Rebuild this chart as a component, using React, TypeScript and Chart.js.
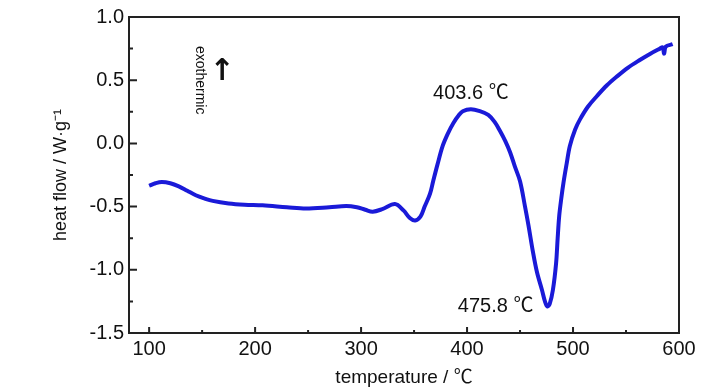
import React, { useEffect, useRef } from "react";
import { Chart, registerables } from "chart.js";

Chart.register(...registerables);

// ---- data ----
const temperature = [
  100, 106, 112, 120, 128, 136, 144, 152, 160, 175, 190, 207, 230, 248, 270, 286, 296, 304, 311, 320,
  332, 340, 346, 351, 356, 360, 365, 368, 372, 377, 382, 387, 392, 396, 403.6, 412, 420, 426, 431, 436,
  440.6, 445, 450, 454.7, 458, 462, 466, 470.7, 473.5, 475.8, 478, 481, 484, 485.5, 487, 489, 491, 494,
  497, 502, 506.6, 514, 522.6, 532, 541.5, 552, 563, 573, 582, 584.5, 586, 587.5, 594,
];
const heatFlow = [
  -0.335, -0.315, -0.305, -0.315, -0.34, -0.375, -0.41, -0.435, -0.455, -0.475, -0.485, -0.49, -0.505,
  -0.515, -0.505, -0.495, -0.505, -0.525, -0.54, -0.52, -0.48, -0.53, -0.59, -0.61, -0.58, -0.5, -0.4,
  -0.3, -0.17, -0.02, 0.08, 0.16, 0.22, 0.255, 0.27, 0.255, 0.225, 0.17, 0.1, 0.02, -0.07, -0.18, -0.3,
  -0.5, -0.65, -0.85, -1.02, -1.16, -1.25, -1.29, -1.27, -1.16, -0.95, -0.75, -0.57, -0.43, -0.31,
  -0.16, -0.02, 0.11, 0.19, 0.29, 0.375, 0.46, 0.53, 0.6, 0.66, 0.71, 0.75, 0.76, 0.71, 0.765, 0.785,
];
const xTickValues = [100, 200, 300, 400, 500, 600];
const xMinorValues = [150, 250, 350, 450, 550];
const yTickValues = [-1.5, -1.0, -0.5, 0.0, 0.5, 1.0];
const yMinorValues = [-1.25, -0.75, -0.25, 0.25, 0.75];

const peakTemp = 403.6;
const peakValue = 0.27;
const peakLabel = "403.6 ℃";
const troughTemp = 475.8;
const troughValue = -1.29;
const troughLabel = "475.8 ℃";
const exoTemp = 150;
const exoValue = 0.5;
const exoLabel = "exothermic";
const arrowLabel = "↑";

const xTitle = "temperature / ℃";
const yTitle = "heat flow / W·g⁻¹";

const FONT = '"Liberation Sans", Arial, "Noto Sans CJK SC", sans-serif';

const framePlugin = {
  id: "frameAndNotes",
  afterDraw(chart: any) {
    const { ctx, chartArea, scales } = chart;
    const { left, right, top, bottom } = chartArea;
    const x = scales.x;
    const y = scales.y;
    ctx.save();
    ctx.strokeStyle = "#222";
    ctx.lineWidth = 2;
    ctx.strokeRect(left, top, right - left, bottom - top);
    ctx.beginPath();
    yTickValues.forEach((v) => {
      const py = y.getPixelForValue(v);
      ctx.moveTo(left, py);
      ctx.lineTo(left + 8, py);
    });
    yMinorValues.forEach((v) => {
      const py = y.getPixelForValue(v);
      ctx.moveTo(left, py);
      ctx.lineTo(left + 4, py);
    });
    xTickValues.forEach((v) => {
      const px = x.getPixelForValue(v);
      ctx.moveTo(px, bottom);
      ctx.lineTo(px, bottom - 6);
    });
    xMinorValues.forEach((v) => {
      const px = x.getPixelForValue(v);
      ctx.moveTo(px, bottom);
      ctx.lineTo(px, bottom - 3);
    });
    ctx.stroke();

    ctx.fillStyle = "#111";
    ctx.font = `20px ${FONT}`;
    ctx.textBaseline = "middle";
    ctx.textAlign = "center";
    ctx.fillText(peakLabel, x.getPixelForValue(peakTemp), y.getPixelForValue(peakValue) - 16);
    ctx.textAlign = "right";
    ctx.fillText(troughLabel, x.getPixelForValue(troughTemp) - 14, y.getPixelForValue(troughValue));

    // exothermic note (rotated clockwise)
    const ex = x.getPixelForValue(exoTemp);
    const ey = y.getPixelForValue(exoValue);
    ctx.save();
    ctx.translate(ex - 2, ey);
    ctx.rotate(Math.PI / 2);
    ctx.font = `14px ${FONT}`;
    ctx.textAlign = "center";
    ctx.textBaseline = "middle";
    ctx.fillText(exoLabel, 0, 0);
    ctx.restore();
    ctx.font = `bold 30px "DejaVu Sans", ${FONT}`;
    ctx.textAlign = "center";
    ctx.textBaseline = "middle";
    ctx.fillText(arrowLabel, ex + 20, ey - 8);
    ctx.restore();
  },
};

export default function App() {
  const ref = useRef<HTMLCanvasElement | null>(null);
  useEffect(() => {
    if (!ref.current) return;
    const points = temperature.map((t, i) => ({ x: t, y: heatFlow[i] }));
    const chart = new Chart(ref.current, {
      type: "line",
      data: {
        datasets: [
          {
            data: points,
            borderColor: "#1a1ad8",
            borderWidth: 4,
            pointRadius: 0,
            tension: 0.35,
            fill: false,
          },
        ],
      },
      options: {
        animation: false,
        responsive: true,
        maintainAspectRatio: false,
        layout: { padding: { left: 0, top: 13, right: 49, bottom: 0 } },
        plugins: { legend: { display: false }, tooltip: { enabled: false } },
        scales: {
          x: {
            type: "linear",
            min: 81,
            max: 600,
            afterBuildTicks: (s: any) => {
              s.ticks = xTickValues.map((v) => ({ value: v }));
            },
            afterFit: (s: any) => {
              s.height = 57;
            },
            grid: { display: false, drawTicks: false },
            border: { display: false },
            ticks: {
              padding: 4,
              color: "#111",
              font: { family: FONT, size: 20 },
              callback: (v: any) => String(v),
            },
            title: {
              display: true,
              text: xTitle,
              color: "#111",
              font: { family: FONT, size: 19 },
              padding: { top: 0, bottom: 1 },
            },
          },
          y: {
            type: "linear",
            min: -1.5,
            max: 1.0,
            afterBuildTicks: (s: any) => {
              s.ticks = yTickValues.map((v) => ({ value: v }));
            },
            afterFit: (s: any) => {
              s.width = 129;
            },
            grid: { display: false, drawTicks: false },
            border: { display: false },
            ticks: {
              padding: 5,
              color: "#111",
              font: { family: FONT, size: 20 },
              callback: (v: any) => Number(v).toFixed(1),
            },
            title: {
              display: true,
              text: yTitle,
              color: "#111",
              font: { family: FONT, size: 18 },
              padding: { top: 50, bottom: 0 },
            },
          },
        },
      },
      plugins: [framePlugin],
    });
    return () => chart.destroy();
  }, []);
  return (
    <div style={{ position: "fixed", left: 0, top: 0, width: 728, height: 390, background: "#fff" }}>
      <canvas ref={ref} />
    </div>
  );
}
